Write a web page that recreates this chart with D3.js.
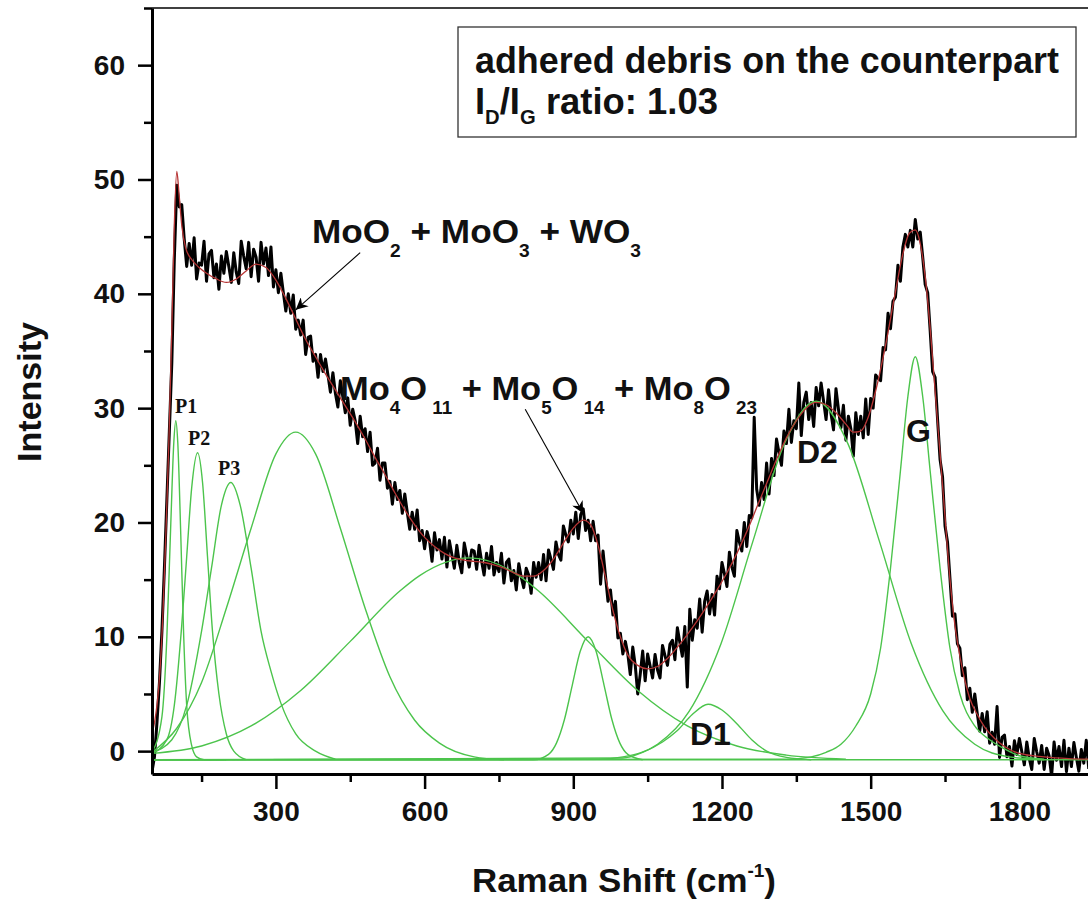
<!DOCTYPE html>
<html>
<head>
<meta charset="utf-8">
<script src="https://cdn.jsdelivr.net/npm/d3@7"></script>
<style>
body { margin: 0; background: #fff; }
svg text { font-family: "Liberation Sans", Arial, sans-serif; font-weight: bold; fill: #111; }
</style>
</head>
<body>
<div id="chart"></div>
<script>
// measured spectrum, one value every 5 cm-1 starting at 50 cm-1
var shiftStart = 50, shiftStep = 5;
var intensity = [
    -1.8, -0.5, 2.5, 6, 10.5, 16, 22, 28, 34, 43,
    49.5, 47.6, 47.8, 44.8, 42.4, 44.4, 42.5, 44.9, 41.3, 42.7,
    42.5, 44.6, 41.1, 43.5, 43.8, 41.4, 42.6, 40.4, 43.3, 41.8,
    43.7, 42.4, 41.0, 43.6, 41.9, 40.9, 44.6, 43.3, 42.2, 44.5,
    41.5, 43.9, 43.2, 41.1, 44.5, 42.6, 44.0, 41.6, 44.1, 40.6,
    42.1, 40.1, 41.8, 40.1, 38.5, 40.0, 38.3, 39.9, 36.9, 37.7,
    36.4, 37.7, 34.7, 36.2, 36.3, 34.1, 34.7, 32.7, 34.7, 33.2,
    34.3, 32.9, 31.4, 33.1, 31.3, 30.1, 32.4, 31.0, 29.6, 30.9,
    28.5, 29.9, 28.9, 26.9, 29.3, 27.5, 28.2, 26.2, 27.9, 25.0,
    25.2, 26.5, 23.7, 25.2, 25.2, 23.0, 23.6, 21.6, 23.5, 22.0,
    22.8, 20.8, 22.5, 20.9, 19.4, 20.9, 19.4, 21.1, 18.4, 19.3,
    17.7, 19.2, 18.4, 16.6, 19.1, 17.6, 18.5, 16.8, 18.7, 16.1,
    18.4, 17.2, 16.0, 18.0, 16.5, 15.6, 18.2, 17.1, 16.1, 17.6,
    17.5, 15.9, 18.0, 16.6, 15.4, 17.3, 16.0, 17.9, 15.4, 16.5,
    15.7, 17.3, 14.7, 16.5, 16.8, 14.9, 15.8, 14.1, 16.4, 15.2,
    14.3, 16.0, 15.4, 13.8, 16.5, 15.2, 16.5, 15.0, 17.2, 14.9,
    17.6, 16.8, 15.9, 18.3, 17.2, 16.7, 19.7, 18.9, 18.3, 20.2,
    19.0, 20.9, 18.6, 20.7, 21.2, 19.3, 20.2, 18.4, 20.1, 18.4,
    18.9, 14.6, 17.5, 15.3, 13.1, 14.1, 11.9, 13.1, 9.9, 10.3,
    8.5, 9.6, 8.5, 6.7, 9.1, 7.5, 5.0, 6.7, 8.75, 6.15,
    8.5, 7.45, 6.4, 8.45, 7.1, 6.4, 9.25, 8.35, 7.5, 9.35,
    9.7, 8.0, 10.8, 9.5, 8.3, 10.9, 5.6, 12.4, 9.7, 11.5,
    10.75, 13.3, 10.4, 13.1, 14.0, 12.0, 13.7, 11.9, 15.3, 14.2,
    16.5, 15.5, 14.4, 17.4, 16.1, 15.3, 19.3, 18.3, 17.5, 20.0,
    17.9, 20.6, 20.4, 29.2, 22.9, 21.5, 23.5, 22.0, 25.2, 22.5,
    25.6, 24.1, 27.3, 26.1, 25.0, 28.0, 26.9, 29.9, 27.0, 28.9,
    28.2, 32.2, 27.6, 30.5, 31.4, 29.0, 30.5, 28.4, 31.8, 30.2,
    32.2, 30.6, 29.0, 31.6, 29.5, 28.1, 31.7, 29.9, 28.3, 30.25,
    27.2, 29.3, 28.2, 25.8, 29.6, 27.7, 29.3, 27.4, 30.8, 27.7,
    30.85, 30.0, 32.9, 32.6, 32.4, 35.3, 35.1, 38.3, 36.95, 39.35,
    39.7, 42.5, 41.1, 44.1, 45.2, 44.1, 45.55, 44.1, 46.5, 44.8,
    45.4, 43.2, 40.8, 40.1, 36.8, 33.2, 32.7, 29.0, 25.5, 24.0,
    19.7, 18.3, 15.1, 11.8, 12.0, 9.4, 9.0, 6.6, 7.3, 4.5,
    5.5, 3.4, 5.0, 3.3, 1.75, 3.3, 1.7, 3.45, 0.7, 1.65,
    0.6, 3.9, -0.55, 1.2, 1.4, -0.5, 0.4, -1.3, 0.9, -0.3,
    1.1, -0.05, -1.2, 0.8, -0.65, -1.6, 1.1, -0.05, -1.05, 0.5,
    -1.6, 0.25, -0.4, -2.2, 0.8, -0.8, 0.4, -1.35, 0.95, -1.8,
    0.25, -1.35, 0.75, -0.55, -1.75, 0.15, -1.05, 0.95, -1.55
];

// cumulative fit (red)
var fitCurve = [[50,1.5],[55,2.5],[60,4],[66,7],[72,12],[78,19],[84,27],[90,37],[95,46],[100,50.7],
    [105,48.5],[110,46],[118,44],[130,43],[145,42.3],[160,41.8],[180,41.3],[200,41],[220,41.3],[240,42],
    [260,42.6],[280,42.3],[300,41.2],[320,39.6],[340,37.8],[360,36],[380,34.5],[400,33],[420,31.6],[440,30.2],
    [460,28.8],[480,27.3],[500,25.7],[520,24.2],[540,22.6],[560,21.1],[580,19.8],[600,18.7],[620,17.9],[640,17.3],
    [660,16.9],[680,16.7],[700,16.6],[720,16.5],[740,16.3],[760,16],[780,15.6],[800,15.3],[820,15.3],[840,15.8],
    [860,16.8],[880,18.2],[900,19.5],[920,20.2],[935,19.8],[950,18],[965,15.2],[980,12.3],[995,10],[1010,8.4],
    [1030,7.5],[1050,7.2],[1070,7.4],[1090,8.1],[1110,9.1],[1130,10.2],[1150,11.4],[1170,12.7],[1190,14.1],[1210,15.6],
    [1230,17.3],[1250,19.2],[1270,21.3],[1290,23.4],[1310,25.5],[1330,27.4],[1350,28.9],[1370,30],[1390,30.5],[1410,30.3],
    [1430,29.6],[1450,28.6],[1465,27.9],[1480,28],[1495,29.2],[1510,31.5],[1530,35.5],[1550,40.2],[1565,43.5],[1578,45.3],
    [1590,45.6],[1600,44.4],[1610,41.5],[1620,37],[1630,31.5],[1640,26],[1650,20.5],[1660,15],[1670,11],[1680,8.3],
    [1690,6.2],[1700,4.6],[1715,3.2],[1730,2.1],[1750,1.1],[1770,0.4],[1800,-0.2],[1850,-0.5],[1900,-0.65],[1950,-0.7]];

// fitted component peaks (green)
var baseline = [[50,-0.75],[2000,-0.75]];
var peakP1 = [[50,-0.1],[70,3],[80,10],[88,20],[94,27],[98,28.9],[102,27],[108,19],[114,10],[120,4],[130,0.5],[140,-0.5],[155,-0.75],[200,-0.75]];
var peakP2 = [[50,-0.2],[80,1],[95,4],[110,11],[120,17],[130,23],[142,26.1],[152,23.5],[162,17],[172,10.5],[185,5],[200,1.5],[215,0],[240,-0.75]];
var peakP3 = [[50,-0.1],[90,1],[120,4],[150,10.5],[170,16],[190,21.5],[209,23.5],[228,21.5],[250,16],[270,10.5],[290,7],[310,4.2],[340,1.5],[380,0],[420,-0.7]];
var peakMoO = [[50,-0.1],[100,2],[150,6],[200,12.5],[250,19.5],[300,26],[340,27.9],[380,26],[430,19.5],[480,12.5],[530,6.5],[580,2.7],[630,0.7],[700,-0.5],[760,-0.75]];
var peakBroad = [[50,-0.2],[150,0.45],[250,2.2],[350,5.3],[450,9.6],[550,14],[590,15.35],[690,16.9],[790,15.35],[830,14],[930,9.6],[1030,5.3],[1130,2.2],[1230,0.45],[1330,-0.35],[1450,-0.7]];
var peak930 = [[50,-0.75],[820,-0.75],[850,-0.28],[866,0.7],[882,2.74],[898,5.78],[914,8.73],[930,10],[946,8.73],[962,5.78],[978,2.74],[994,0.7],[1010,-0.28],[1040,-0.75]];
var peakD1 = [[50,-0.75],[1000,-0.6],[1040,-0.1],[1080,0.8],[1110,1.8],[1140,3.2],[1172,4.1],[1200,3.6],[1230,2.4],[1260,1.0],[1290,0],[1330,-0.55],[1380,-0.75]];
var peakD2 = [[50,-0.75],[950,-0.7],[1000,-0.5],[1070,0.6],[1134,3.5],[1198,9.4],[1262,18.3],[1326,26.9],[1390,30.6],[1454,26.9],[1518,18.3],[1582,9.4],[1646,3.5],[1710,0.6],[1780,-0.5],[1850,-0.75]];
var peakG = [[50,-0.75],[1330,-0.7],[1380,-0.5],[1410,-0.1],[1440,0.6],[1470,2.2],[1500,5],[1520,9],[1540,16],[1560,24.5],[1575,31],[1590,34.5],[1605,31],[1620,24.5],[1640,16],[1660,9],[1680,5],[1710,2.2],[1740,1.0],[1770,0.2],[1800,-0.4],[1850,-0.7]];

var xTicks = [300, 600, 900, 1200, 1500, 1800];
var xMinorTicks = [150, 450, 750, 1050, 1350, 1650, 1950];
var yTicks = [0, 10, 20, 30, 40, 50, 60];
var yMinorTicks = [5, 15, 25, 35, 45, 55, 65];

var width = 1088, height = 901;
var svg = d3.select("#chart").append("svg")
    .attr("width", width)
    .attr("height", height);

var x = d3.scaleLinear().domain([50, 2000]).range([152, 1118.5]);
var y = d3.scaleLinear().domain([-2, 65]).range([774, 8]);

var defs = svg.append("defs");
defs.append("clipPath").attr("id", "plotArea")
    .append("rect").attr("x", 152).attr("y", 8).attr("width", width - 152).attr("height", 767);
defs.append("marker")
    .attr("id", "arrow")
    .attr("viewBox", "0 0 10 10")
    .attr("refX", 10).attr("refY", 5)
    .attr("markerWidth", 18).attr("markerHeight", 12)
    .attr("markerUnits", "userSpaceOnUse")
    .attr("orient", "auto")
    .append("path").attr("d", "M0,0 L10,5 L0,10 L3,5 z").attr("fill", "#000");

var plot = svg.append("g").attr("clip-path", "url(#plotArea)");

var line = d3.line().x(function (d) { return x(d[0]); }).y(function (d) { return y(d[1]); });
var smooth = d3.line().curve(d3.curveMonotoneX).x(function (d) { return x(d[0]); }).y(function (d) { return y(d[1]); });

// raw spectrum
var spectrum = intensity.map(function (v, i) { return [shiftStart + i * shiftStep, v]; });
plot.append("path")
    .datum(spectrum)
    .attr("fill", "none")
    .attr("stroke", "#000")
    .attr("stroke-width", 3)
    .attr("stroke-linejoin", "round")
    .attr("d", line);

// component peaks
var components = [baseline, peakP1, peakP2, peakP3, peakMoO, peakBroad, peak930, peakD1, peakD2, peakG];
plot.selectAll(".peak")
    .data(components)
    .enter()
    .append("path")
    .attr("class", "peak")
    .attr("fill", "none")
    .attr("stroke", "#4cc44c")
    .attr("stroke-width", 1.4)
    .attr("d", smooth);

// cumulative fit
plot.append("path")
    .datum(fitCurve)
    .attr("fill", "none")
    .attr("stroke", "#b63434")
    .attr("stroke-width", 1.3)
    .attr("d", smooth);

// axes
var gx = svg.append("g")
    .attr("transform", "translate(0,774)")
    .call(d3.axisBottom(x).tickValues(xTicks).tickFormat(d3.format("d")).tickSize(15).tickPadding(12).tickSizeOuter(0))
    .attr("font-family", "Liberation Sans, Arial, sans-serif")
    .attr("font-size", 28);
gx.select(".domain").attr("stroke-width", 3);
gx.selectAll(".tick line").attr("stroke-width", 2.5);

svg.append("g")
    .attr("transform", "translate(0,774)")
    .call(d3.axisBottom(x).tickValues(xMinorTicks).tickSize(8).tickFormat("").tickSizeOuter(0))
    .call(function (g) { g.select(".domain").remove(); })
    .selectAll(".tick line").attr("stroke-width", 2.5);

var gy = svg.append("g")
    .attr("transform", "translate(152,0)")
    .call(d3.axisLeft(y).tickValues(yTicks).tickFormat(d3.format("d")).tickSize(14).tickPadding(13).tickSizeOuter(0))
    .attr("font-family", "Liberation Sans, Arial, sans-serif")
    .attr("font-size", 28);
gy.select(".domain").attr("stroke-width", 3);
gy.selectAll(".tick line").attr("stroke-width", 2.5);

svg.append("g")
    .attr("transform", "translate(152,0)")
    .call(d3.axisLeft(y).tickValues(yMinorTicks).tickSize(8).tickFormat("").tickSizeOuter(0))
    .call(function (g) { g.select(".domain").remove(); })
    .selectAll(".tick line").attr("stroke-width", 2.5);

// top frame line
svg.append("line")
    .attr("x1", 152).attr("x2", width)
    .attr("y1", 8).attr("y2", 8)
    .attr("stroke", "#000").attr("stroke-width", 1.5);

// axis titles
svg.append("text")
    .attr("transform", "translate(41,392) rotate(-90)")
    .attr("text-anchor", "middle")
    .attr("font-size", 34)
    .text("Intensity");

var xTitle = svg.append("text")
    .attr("x", 472).attr("y", 892)
    .attr("font-size", 33)
    .attr("textLength", 304)
    .attr("lengthAdjust", "spacingAndGlyphs");
xTitle.append("tspan").text("Raman Shift (cm");
xTitle.append("tspan").attr("font-size", 18).attr("dy", -15).text("-1");
xTitle.append("tspan").attr("dy", 15).text(")");

// formula labels with subscripts
function formula(px, py, len, parts) {
    var t = svg.append("text")
        .attr("x", px).attr("y", py)
        .attr("font-size", 33)
        .attr("textLength", len)
        .attr("lengthAdjust", "spacingAndGlyphs");
    var down = false;
    parts.forEach(function (p) {
        var s = t.append("tspan").text(p[0]);
        if (p[1]) {
            s.attr("font-size", 18).attr("dy", down ? 0 : 14);
            down = true;
        } else {
            s.attr("dy", down ? -14 : 0);
            down = false;
        }
    });
    return t;
}
formula(312, 243, 329, [["MoO"], ["2", 1], [" + MoO"], ["3", 1], [" + WO"], ["3", 1]]);
formula(340, 400, 417, [["Mo"], ["4", 1], ["O"], [" 11", 1], [" + Mo"], ["5", 1], ["O"], [" 14", 1], [" + Mo"], ["8", 1], ["O"], [" 23", 1]]);

// arrows, tip anchored on the spectrum
var arrows = [
    { from: [470, 43.6], to: [340, 38.6] },
    { from: [803, 29.9], to: [920, 20.8] }
];
svg.selectAll(".arrow")
    .data(arrows)
    .enter()
    .append("line")
    .attr("class", "arrow")
    .attr("x1", function (d) { return x(d.from[0]); })
    .attr("y1", function (d) { return y(d.from[1]); })
    .attr("x2", function (d) { return x(d.to[0]); })
    .attr("y2", function (d) { return y(d.to[1]); })
    .attr("stroke", "#000")
    .attr("stroke-width", 1.1)
    .attr("marker-end", "url(#arrow)");

// peak labels
var peakLabels = [
    { text: "P1", x: 175, y: 413, serif: true },
    { text: "P2", x: 188, y: 445, serif: true },
    { text: "P3", x: 218, y: 475, serif: true },
    { text: "D1", x: 690, y: 745 },
    { text: "D2", x: 797, y: 463 },
    { text: "G", x: 906, y: 442 }
];
svg.selectAll(".plabel")
    .data(peakLabels)
    .enter()
    .append("text")
    .attr("class", "plabel")
    .attr("x", function (d) { return d.x; })
    .attr("y", function (d) { return d.y; })
    .attr("font-size", function (d) { return d.serif ? 20 : 32; })
    .style("font-family", function (d) { return d.serif ? "'Liberation Serif', 'Times New Roman', serif" : null; })
    .text(function (d) { return d.text; });

// info box
svg.append("rect")
    .attr("x", 458).attr("y", 27)
    .attr("width", 618).attr("height", 110)
    .attr("fill", "#fff")
    .attr("stroke", "#333")
    .attr("stroke-width", 1.3);

svg.append("text")
    .attr("x", 475).attr("y", 73)
    .attr("font-size", 36)
    .attr("textLength", 584)
    .attr("lengthAdjust", "spacingAndGlyphs")
    .text("adhered debris on the counterpart");

var ratio = svg.append("text")
    .attr("x", 475).attr("y", 114)
    .attr("font-size", 36)
    .attr("textLength", 243)
    .attr("lengthAdjust", "spacingAndGlyphs");
ratio.append("tspan").text("I");
ratio.append("tspan").attr("font-size", 20).attr("dy", 10).text("D");
ratio.append("tspan").attr("dy", -10).text("/I");
ratio.append("tspan").attr("font-size", 20).attr("dy", 10).text("G");
ratio.append("tspan").attr("dy", -10).text(" ratio: 1.03");
</script>
</body>
</html>
